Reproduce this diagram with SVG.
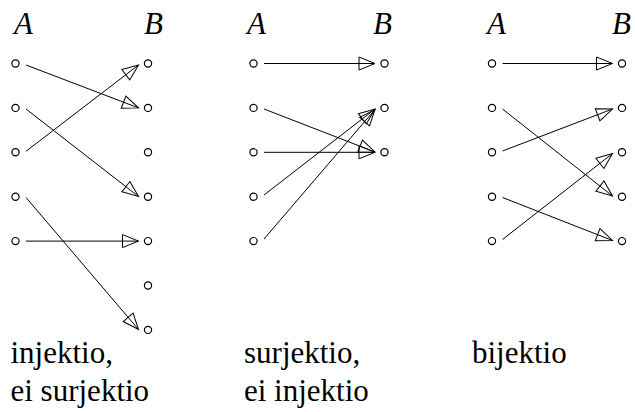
<svg xmlns="http://www.w3.org/2000/svg" width="635" height="412" viewBox="0 0 635 412">
<defs>
<marker id="tri" markerUnits="userSpaceOnUse" markerWidth="20" markerHeight="16" refX="16.5" refY="7" orient="auto" overflow="visible">
<path d="M0.5,0.5 L16.5,7 L0.5,13.5 Z" fill="none" stroke="#000" stroke-width="1"/>
</marker>
</defs>
<rect width="635" height="412" fill="#fff"/>
<text x="14" y="33.5" font-family="Liberation Serif" font-style="italic" font-size="31">A</text>
<text x="144" y="33.5" font-family="Liberation Serif" font-style="italic" font-size="31">B</text>
<text x="247" y="33.5" font-family="Liberation Serif" font-style="italic" font-size="31">A</text>
<text x="373" y="33.5" font-family="Liberation Serif" font-style="italic" font-size="31">B</text>
<text x="487" y="33.5" font-family="Liberation Serif" font-style="italic" font-size="31">A</text>
<text x="612" y="33.5" font-family="Liberation Serif" font-style="italic" font-size="31">B</text>
<text x="10.5" y="362.5" font-family="Liberation Serif" font-size="31">injektio,</text>
<text x="10.5" y="400.5" font-family="Liberation Serif" font-size="31">ei surjektio</text>
<text x="244" y="362.5" font-family="Liberation Serif" font-size="31">surjektio,</text>
<text x="244" y="400.5" font-family="Liberation Serif" font-size="31">ei injektio</text>
<text x="472" y="362.5" font-family="Liberation Serif" font-size="31">bijektio</text>

<g id="connectors" fill="none" stroke="#000" stroke-width="1" marker-end="url(#tri)">
<path d="M26,65 L138.5,107.9"/>
<path d="M26,109 L138.5,196.5"/>
<path d="M26,151.3 L138.5,65"/>
<path d="M26,197.5 L138.5,329.5"/>
<path d="M26,241.1 L138.5,241.1"/>
<path d="M264,63.5 L375,63.5"/>
<path d="M264,109 L375,152"/>
<path d="M264,152.3 L375,152.3"/>
<path d="M264,195 L375,109"/>
<path d="M264,239 L375,109.5"/>
<path d="M502.5,63.5 L612.5,63.5"/>
<path d="M502.5,109 L612.5,196"/>
<path d="M502.5,151 L612.5,109"/>
<path d="M502.5,197.5 L612.5,240.5"/>
<path d="M502.5,239.5 L612.5,153.5"/>
</g>

<g id="nodes" fill="#fff" stroke="#000" stroke-width="1.2">
<g id="p1-a1"><circle cx="15.5" cy="63.5" r="3.6"/></g>
<g id="p1-a2"><circle cx="15.5" cy="107.9" r="3.6"/></g>
<g id="p1-a3"><circle cx="15.5" cy="152.3" r="3.6"/></g>
<g id="p1-a4"><circle cx="15.5" cy="196.7" r="3.6"/></g>
<g id="p1-a5"><circle cx="15.5" cy="241.1" r="3.6"/></g>
<g id="p1-b1"><circle cx="148" cy="63.5" r="3.6"/></g>
<g id="p1-b2"><circle cx="148" cy="107.9" r="3.6"/></g>
<g id="p1-b3"><circle cx="148" cy="152.3" r="3.6"/></g>
<g id="p1-b4"><circle cx="148" cy="196.7" r="3.6"/></g>
<g id="p1-b5"><circle cx="148" cy="241.1" r="3.6"/></g>
<g id="p1-b6"><circle cx="148" cy="285.5" r="3.6"/></g>
<g id="p1-b7"><circle cx="148" cy="329.9" r="3.6"/></g>
<g id="p2-a1"><circle cx="253.5" cy="63.5" r="3.6"/></g>
<g id="p2-a2"><circle cx="253.5" cy="107.9" r="3.6"/></g>
<g id="p2-a3"><circle cx="253.5" cy="152.3" r="3.6"/></g>
<g id="p2-a4"><circle cx="253.5" cy="196.7" r="3.6"/></g>
<g id="p2-a5"><circle cx="253.5" cy="241.1" r="3.6"/></g>
<g id="p2-b1"><circle cx="384.5" cy="63.5" r="3.6"/></g>
<g id="p2-b2"><circle cx="384.5" cy="107.9" r="3.6"/></g>
<g id="p2-b3"><circle cx="384.5" cy="152.3" r="3.6"/></g>
<g id="p3-a1"><circle cx="492" cy="63.5" r="3.6"/></g>
<g id="p3-a2"><circle cx="492" cy="107.9" r="3.6"/></g>
<g id="p3-a3"><circle cx="492" cy="152.3" r="3.6"/></g>
<g id="p3-a4"><circle cx="492" cy="196.7" r="3.6"/></g>
<g id="p3-a5"><circle cx="492" cy="241.1" r="3.6"/></g>
<g id="p3-b1"><circle cx="622" cy="63.5" r="3.6"/></g>
<g id="p3-b2"><circle cx="622" cy="107.9" r="3.6"/></g>
<g id="p3-b3"><circle cx="622" cy="152.3" r="3.6"/></g>
<g id="p3-b4"><circle cx="622" cy="196.7" r="3.6"/></g>
<g id="p3-b5"><circle cx="622" cy="241.1" r="3.6"/></g>
</g>
</svg>
